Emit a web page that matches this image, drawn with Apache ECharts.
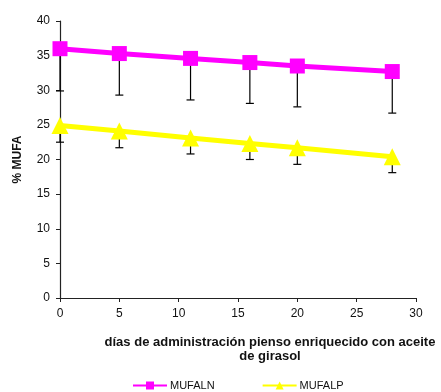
<!DOCTYPE html>
<html>
<head>
<meta charset="utf-8">
<script src="https://cdn.jsdelivr.net/npm/echarts@6/dist/echarts.min.js"></script>
<style>
  html, body { margin: 0; padding: 0; background: #fff; }
  #chart { width: 441px; height: 392px; }
</style>
</head>
<body>
<div id="chart"></div>
<script>
// Days of feeding with sunflower-oil enriched feed
const days = [0, 5, 11, 16, 20, 28];
// Mean % MUFA per group and the lower end of each error bar
const mufaln = [36.0, 35.3, 34.6, 34.0, 33.5, 32.7];
const mufalnLow = [29.9, 29.3, 28.6, 28.1, 27.6, 26.7];
const mufalp = [24.9, 24.1, 23.1, 22.3, 21.7, 20.4];
const mufalpLow = [22.5, 21.7, 20.8, 20.0, 19.3, 18.1];
const yTicks = [0, 5, 10, 15, 20, 25, 30, 35, 40];
const xTicks = [0, 5, 10, 15, 20, 25, 30];

const font = 'Liberation Sans, Arial, sans-serif';
const axisColor = '#222';

function pairs(xs, ys) { return xs.map((x, i) => [x, ys[i]]); }
function errData(xs, ys, lows) { return xs.map((x, i) => [x, ys[i], lows[i]]); }

function errorBars(api) {
  const top = api.coord([api.value(0), api.value(1)]);
  const bot = api.coord([api.value(0), api.value(2)]);
  const cap = 4;
  const style = { stroke: '#000', lineWidth: 1.2 };
  return {
    type: 'group',
    children: [
      { type: 'line', shape: { x1: top[0], y1: top[1], x2: bot[0], y2: bot[1] }, style },
      { type: 'line', shape: { x1: bot[0] - cap, y1: bot[1], x2: bot[0] + cap, y2: bot[1] }, style }
    ]
  };
}

const chart = echarts.init(document.getElementById('chart'), null, { renderer: 'canvas' });
chart.setOption({
  animation: false,
  backgroundColor: '#fff',
  grid: { left: 60, right: 25, top: 21, bottom: 94, containLabel: false },
  xAxis: {
    type: 'value',
    min: xTicks[0], max: xTicks[xTicks.length - 1], interval: 5,
    axisLine: { show: true, lineStyle: { color: axisColor, width: 1.2 } },
    axisTick: { show: true, length: 4, lineStyle: { color: axisColor } },
    axisLabel: { color: '#111', fontSize: 12, fontFamily: font, margin: 10 },
    splitLine: { show: false }
  },
  yAxis: {
    type: 'value',
    min: yTicks[0], max: yTicks[yTicks.length - 1], interval: 5,
    name: '% MUFA',
    nameLocation: 'middle',
    nameGap: 36,
    nameTextStyle: { fontWeight: 'bold', fontSize: 12, fontFamily: font, color: '#111' },
    axisLine: { show: true, lineStyle: { color: axisColor, width: 1.2 } },
    axisTick: { show: true, length: 4, lineStyle: { color: axisColor } },
    axisLabel: { color: '#111', fontSize: 12, fontFamily: font, margin: 10 },
    splitLine: { show: false }
  },
  legend: {
    top: 375,
    left: 127,
    itemWidth: 34,
    itemHeight: 10,
    itemGap: 47,
    textStyle: { fontSize: 11, fontFamily: font, color: '#111', padding: [0, 0, 0, -2] },
    data: ['MUFALN', 'MUFALP']
  },
  graphic: [{
    type: 'text',
    x: 270,
    y: 335,
    style: {
      text: 'días de administración pienso enriquecido con aceite\nde girasol',
      align: 'center',
      verticalAlign: 'top',
      font: 'bold 13px Liberation Sans, Arial, sans-serif',
      fill: '#111',
      lineHeight: 14
    }
  }],
  series: [
    {
      type: 'custom',
      renderItem: (params, api) => errorBars(api),
      data: errData(days, mufaln, mufalnLow),
      z: 1, silent: true
    },
    {
      type: 'custom',
      renderItem: (params, api) => errorBars(api),
      data: errData(days, mufalp, mufalpLow),
      z: 1, silent: true
    },
    {
      name: 'MUFALN',
      type: 'line',
      data: pairs(days, mufaln),
      symbol: 'rect',
      symbolSize: 15,
      lineStyle: { color: '#ff00ff', width: 5 },
      itemStyle: { color: '#ff00ff' },
      z: 3
    },
    {
      name: 'MUFALP',
      type: 'line',
      data: pairs(days, mufalp),
      symbol: 'triangle',
      symbolSize: 17,
      lineStyle: { color: '#ffff00', width: 5 },
      itemStyle: { color: '#ffff00' },
      z: 3
    }
  ]
});
</script>
</body>
</html>
